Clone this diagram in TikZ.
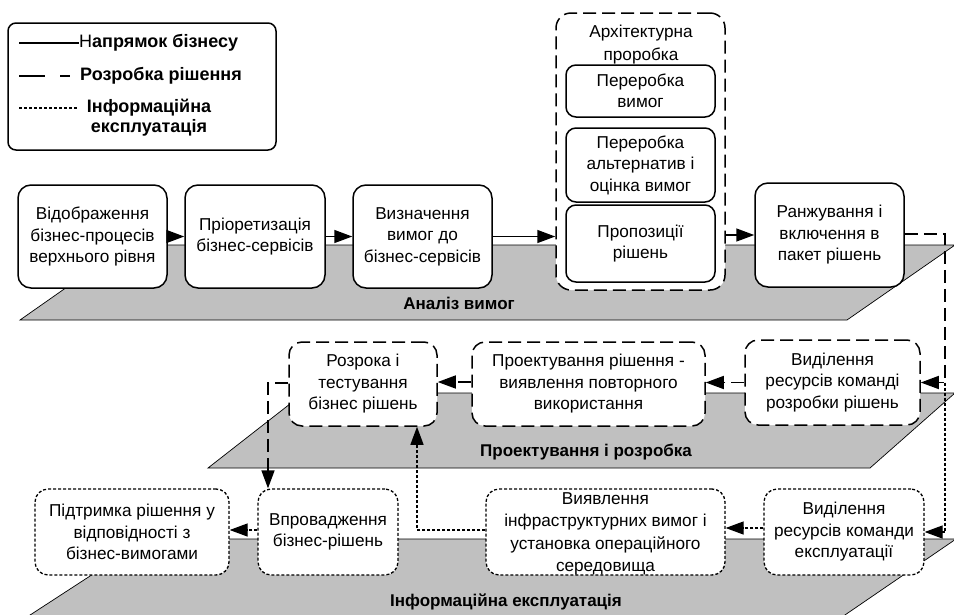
\documentclass[tikz,border=0pt]{standalone}
\usepackage{fontspec}
\setmainfont{Liberation Sans}
\usetikzlibrary{arrows.meta}
\definecolor{planegray}{RGB}{192,192,192}
\begin{document}
\begin{tikzpicture}[x=1pt,y=-1pt,
  box/.style={draw, line width=1.5pt, rounded corners=13pt, fill=white, align=center, inner sep=0pt,
    font=\fontsize{17.2}{21.5}\selectfont},
  bizbox/.style={box},
  innerbox/.style={box, rounded corners=10pt},
  devbox/.style={box, dash pattern=on 13pt off 6pt},
  infobox/.style={box, line width=1.3pt, dash pattern=on 3pt off 2pt},
  plane/.style={fill=planegray, draw=black, line width=0.7pt},
  planelabel/.style={font=\bfseries\fontsize{17}{20}\selectfont},
  legtext/.style={font=\bfseries\fontsize{18}{20}\selectfont, inner sep=0pt, align=center},
  arr/.style={-{Triangle[length=18pt,width=13pt]}, line width=1.5pt},
  bizline/.style={arr},
  devline/.style={arr, dash pattern=on 13pt off 6pt},
  infoline/.style={arr, line width=1.3pt, dash pattern=on 3pt off 2pt}]
\useasboundingbox (0,0) rectangle (954,614);
\begin{scope}
\clip (0,0) rectangle (954,614);
% planes
\draw[plane] (20,320) -- (847,320) -- (955,245) -- (127,245) -- cycle;
\draw[plane] (208,468) -- (870,468) -- (955,393) -- (304,393) -- cycle;
\draw[plane] (27,617) -- (842,617) -- (956,539) -- (147,539) -- cycle;
\node[planelabel] (l1) at (459,303) {Аналіз вимог};
\node[planelabel] (l2) at (586,452) {Проектування і розробка};
\node[planelabel] (l3) at (506,602) {Інформаційна експлуатація};

% legend
\draw[line width=1.5pt, rounded corners=8pt] (8,23) rectangle (276,150);
\coordinate (s1a) at (19,43); \coordinate (s1b) at (79,43);
\coordinate (s2a) at (19,76); \coordinate (s2b) at (70,76);
\coordinate (s3a) at (19,108); \coordinate (s3b) at (78,108);
\draw[line width=1.5pt] (s1a) -- (s1b);
\draw[line width=1.5pt, dash pattern=on 26pt off 15pt on 10pt off 20pt] (s2a) -- (s2b);
\draw[line width=1.2pt, dash pattern=on 3pt off 2pt] (s3a) -- (s3b);
\node[legtext, anchor=west] (t1) at (79,43) {\mdseries Н\bfseries апрямок бізнесу};
\node[legtext, anchor=west] (t2) at (80,76) {Розробка рішення};
\node[legtext] (t3) at (149,118) {Інформаційна\\експлуатація};

% row 1
\node[bizbox, minimum width=149pt, minimum height=103pt] (B1) at (92.5,236.5) {Відображення\\бізнес-процесів\\верхнього рівня};
\node[bizbox, minimum width=140pt, minimum height=103pt] (B2) at (255,236.5) {Пріоретизація\\бізнес-сервісів};
\node[bizbox, minimum width=139pt, minimum height=103pt] (B3) at (422.5,236.5) {Визначення\\вимог до\\бізнес-сервісів};
\node[devbox, minimum width=169pt, minimum height=277pt, rounded corners=15pt] (G) at (640.5,151.5) {};
\node[font=\fontsize{17.2}{23}\selectfont, align=center, inner sep=0pt] (GT) at (641,45) {Архітектурна\\проробка};
\node[innerbox, minimum width=149pt, minimum height=52pt] (A1) at (640.5,91) {Переробка\\вимог};
\node[innerbox, minimum width=149pt, minimum height=74pt] (A2) at (640.5,165) {Переробка\\альтернатив і\\оцінка вимог};
\node[innerbox, minimum width=149pt, minimum height=77pt] (A3) at (640.5,243.5) {Пропозиції\\рішень};
\node[bizbox, minimum width=149pt, minimum height=104pt] (B5) at (829.5,235) {Ранжування і\\включення в\\пакет рішень};

% row 2
\node[devbox, minimum width=175pt, minimum height=85pt] (D1) at (832.5,382.5) {Виділення\\ресурсів команді\\розробки рішень};
\node[devbox, minimum width=233pt, minimum height=84pt] (D2) at (588.5,384) {Проектування рішення -\\виявлення повторного\\використання};
\node[devbox, minimum width=148pt, minimum height=84pt] (D3) at (363,384) {Розрока і\\тестування\\бізнес рішень};

% row 3
\node[infobox, minimum width=160pt, minimum height=86pt] (E1) at (844,532) {Виділення\\ресурсів команди\\експлуатації};
\node[infobox, minimum width=239pt, minimum height=86pt] (E2) at (605.5,532) {};
\node[font=\fontsize{17.2}{22.5}\selectfont, align=center, inner sep=0pt] (E2t) at (605.5,534) {Виявлення\\інфраструктурних вимог і\\установка операційного\\середовища};
\node[infobox, minimum width=140pt, minimum height=86pt] (E3) at (328,532) {Впровадження\\бізнес-рішень};
\node[infobox, minimum width=194pt, minimum height=86pt] (E4) at (132,532) {Підтримка рішення у\\відповідності з\\бізнес-вимогами};

% connectors row 1
\draw[bizline] (B1.east) -- (B2.west);
\draw[bizline] (B2.east) -- (B3.west);
\draw[bizline] (B3.east) -- (B3.east -| G.west);
\draw[bizline] (B5.west -| G.east) -- (B5.west);

% right side
\coordinate (c1) at (945,234);
\coordinate (c2) at (945,382.5);
\draw[devline] (B5.east |- c1) -- (c1) -- (c2) -- (D1.east);
\draw[infoline] (c2) |- (E1.east);

% row 2
\draw[devline] (D1.west) -- (D2.east |- D1.west);
\draw[devline] (D2.west |- 0,382) -- (D3.east |- 0,382);
\coordinate (c3) at (268,383);
\draw[devline] (D3.west |- c3) -- (c3) -- (c3 |- E3.north);

% row 3
\draw[infoline] (E1.west |- 0,528) -- (E2.east |- 0,528);
\draw[infoline] (E3.west |- 0,530) -- (E4.east |- 0,530);
\coordinate (c4) at (417,530);
\draw[infoline] (E2.west |- c4) -- (c4) -- (c4 |- D3.south);
\end{scope}
\end{tikzpicture}
\end{document}
